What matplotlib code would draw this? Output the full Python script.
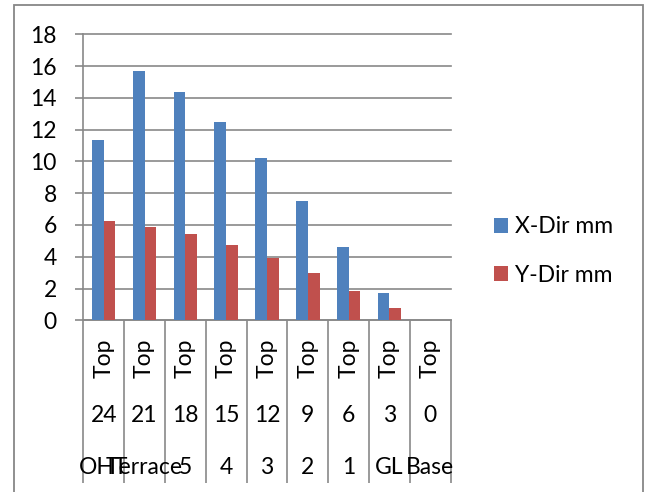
import matplotlib.pyplot as plt
from matplotlib.patches import Rectangle
from matplotlib.transforms import blended_transform_factory

# storey data: level name, height (m), location
levels = ['OHT', 'Terrace', '5', '4', '3', '2', '1', 'GL', 'Base']
heights = ['24', '21', '18', '15', '12', '9', '6', '3', '0']
positions = ['Top'] * 9
x_dir = [11.35, 15.7, 14.35, 12.5, 10.2, 7.5, 4.6, 1.7, 0.0]
y_dir = [6.25, 5.85, 5.4, 4.75, 3.95, 2.95, 1.85, 0.75, 0.0]

plt.rcParams['font.family'] = ['Lato', 'DejaVu Sans']
fs = 16.5
grey = '#898989'

fig = plt.figure(figsize=(6.45, 4.92), dpi=100)
ax = fig.add_axes([0.1291, 0.3490, 0.5697, 0.5813])

idx = list(range(len(levels)))
w = 0.286
ax.bar([i - w / 2 for i in idx], x_dir, width=w, color='#4F81BD', label='X-Dir mm', zorder=3)
ax.bar([i + w / 2 for i in idx], y_dir, width=w, color='#C0504D', label='Y-Dir mm', zorder=3)

ax.set_xlim(-0.5, len(levels) - 0.5)
ax.set_ylim(0, 18)
ax.set_yticks(range(0, 19, 2))
ax.yaxis.grid(True, color=grey, linewidth=1.2, zorder=0)
for ln in ax.get_ygridlines():
    ln.set_clip_on(False)

# category separators run down through the label rows
ax.set_xticks([i - 0.5 for i in range(len(levels) + 1)])
ax.set_xticklabels([])
ax.tick_params(axis='x', direction='out', length=117, color=grey, width=1.2)
ax.tick_params(axis='y', direction='out', length=6, color=grey, width=1.2,
               pad=13, labelsize=fs)

for s in ['top', 'right']:
    ax.spines[s].set_visible(False)
for s in ['left', 'bottom']:
    ax.spines[s].set_color(grey)
    ax.spines[s].set_linewidth(1.2)

# multi-level category labels
tr = blended_transform_factory(ax.transData, fig.transFigure)
for i in idx:
    ax.text(i, 1 - 358 / 492, positions[i], rotation=90, ha='center', va='center',
            fontsize=fs, transform=tr)
    ax.text(i, 1 - 415 / 492, heights[i], ha='center', va='center',
            fontsize=fs, transform=tr)
    ax.text(i, 1 - 467 / 492, levels[i], ha='center', va='center',
            fontsize=fs, transform=tr)

fig.legend(loc='center left', bbox_to_anchor=(494 / 645, 1 - 251 / 492),
           frameon=False, fontsize=fs, handlelength=0.62, handleheight=0.62,
           handletextpad=0.3, labelspacing=1.2, borderpad=0, borderaxespad=0)

# chart area border
fig.add_artist(Rectangle((13.5 / 645, -0.05), (642.5 - 13.5) / 645, 1.05 - 4.7 / 492,
                         transform=fig.transFigure, fill=False,
                         edgecolor='#878787', linewidth=1.3))

fig.savefig('out.png', dpi=100)
plt.close()
